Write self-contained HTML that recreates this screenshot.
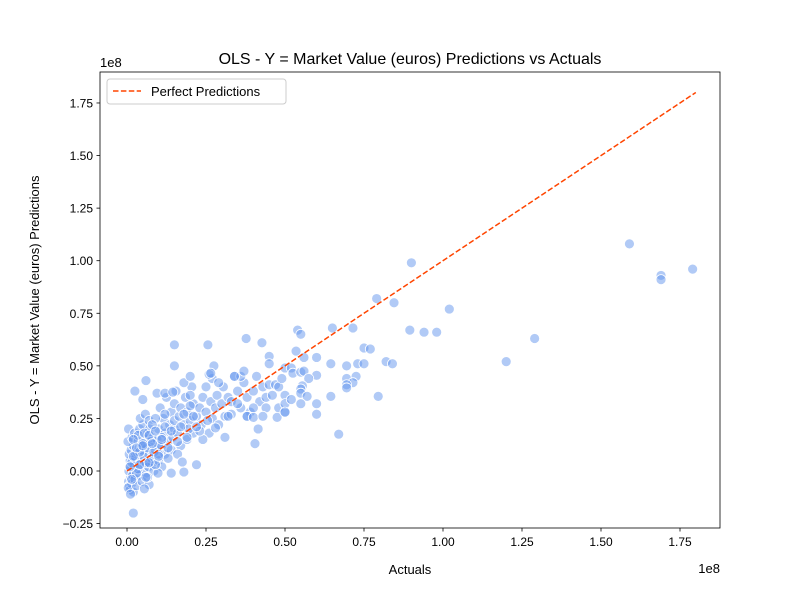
<!DOCTYPE html>
<html><head><meta charset="utf-8"><style>
body{margin:0;background:#fff}
svg text{font-family:"Liberation Sans","DejaVu Sans",sans-serif;fill:#000}
</style></head><body>
<svg id="chart" width="800" height="600" xmlns="http://www.w3.org/2000/svg">
<rect width="800" height="600" fill="#fff"/>
<g id="points"></g>
<g id="axes"></g>
<text x="410" y="64" font-size="16" text-anchor="middle">OLS - Y = Market Value (euros) Predictions vs Actuals</text>
<text x="410" y="574" font-size="13" text-anchor="middle">Actuals</text>
<text transform="translate(39,300) rotate(-90)" font-size="13" text-anchor="middle">OLS - Y = Market Value (euros) Predictions</text>
<text x="100" y="67" font-size="13">1e8</text>
<text x="720" y="573" font-size="13" text-anchor="end">1e8</text>
<g>
<rect x="107" y="79" width="179" height="25" rx="3" fill="#fff" fill-opacity="0.8" stroke="#ccc"/>
<line x1="113" y1="91" x2="141" y2="91" stroke="#ff4500" stroke-width="1.5" stroke-dasharray="5.5,2.4"/>
<text x="151" y="96" font-size="13">Perfect Predictions</text>
</g>
</svg>
<script>
// values in millions of euros
const actuals = [0.5,0.8,1,1.2,0.6,0.9,1.5,2,1,0.7,1.3,2,1.8,2.5,0.4,1.1,2.2,3,2.8,0.3,1.6,0.5,2.4,3,3.2,
4,4.5,5,3.5,4,5,6,5.5,6,7,7.5,6.5,4.2,5.8,7,8,8,3.8,4.8,6.8,5.2,7.2,3.6,6.3,7.8,
9,9.5,10,10,11,11.5,12,12,13,13.5,14,14,15,15,9,10.5,12.5,8.5,11,13,14.5,9.8,12,10,15,
16,16.5,17,17,18,18.5,19,19,20,20.5,21,21,22,16,18,19.5,20,15.5,
23,23.5,24,25,25,26,26.5,27,27,28,28.5,29,30,30.5,31,32,24,26,29,23,25.5,
33,34,35,36,37,38,39,40,41,42,43,44,45,46,47,48,49,33,36,40,44,48,35,38,
15,25.6,37.7,42.7,15,6,2.5,5,9.5,12,14.5,27.5,20,26.5,34,37,45,45,67,40.5,41.5,31,22,18,14,7,5.5,2,38,40,43,47.5,50,32,28,17.5,
159,169,169,179,90,79,84.5,102,129,120,89.5,94,98,54,55,65,71.5,53.5,56,60,64.5,69.5,73,75,75,77,82,84,50,52,52.5,55,56,60,57.5,55.5,55,55,57,64.5,69.5,72.5,71.5,69.5,69.5,79.5,50,50,52,55,60,50,60,
1.5,2.5,3.5,4.5,5.5,6.5,7.5,8.5,2,3,4,5,6,7,8,9,10,11,12,13,14,16,17,18,19,20,21,22,1,1.5,2,3,4,5,6,7,8,9,10,11];
const predictions = [-5,-7,-9,-3,0,2,-6,-10,5,8,10,12,-2,-4,-8,-11,3,-7,6,14,16,20,18,1,9,
-2,5,10,14,20,22,15,3,-1,8,12,18,25,27,24,4,16,11,-5,2,7,20,17,11,6,
10,15,20,5,12,25,18,8,14,22,28,10,20,32,25,30,35,0,2,6,16,-1,27,12,24,
18,26,30,12,22,35,28,15,24,40,32,18,26,8,42,20,36,38,
30,22,35,28,40,18,33,25,44,30,36,22,32,40,26,35,15,46,42,19,24,
33,45,38,30,42,35,28,38,45,33,40,35,41,36,41,40,44,27,45,30,30,30,32,26,
60,60,63,61,50,43,38,34,37,37,37.5,50,45,46.5,45,47.5,54.5,51,17.5,13,20,16,3,-0.5,-1,-6.5,-8.5,-20,26,25.5,26,25.5,28,26,20.5,4.3,
108,93,91,96,99,82,80,77,63,52,67,66,66,67,65,68,68,57,54,54,51,50,51,51,58.5,58,52,51,49,49,46.5,47,47.5,45.5,44,40.5,39,37,35.5,35.5,44,45,42,41,39.5,35.5,36,32,34,32,32,28,27,
4,7,1,12,18,-3,14,9,15,-1,9,13,4,17,22,3,8,16,21,11,19,14,21,27,16,31,26,21,2,-4,7,11,3,12,-3,4,13,19,7,15];
const xTicks = [0,0.25,0.5,0.75,1,1.25,1.5,1.75];
const yTicks = [-0.25,0,0.25,0.5,0.75,1,1.25,1.5,1.75];
const xTickLabels = ["0.00","0.25","0.50","0.75","1.00","1.25","1.50","1.75"];
const yTickLabels = ["−0.25","0.00","0.25","0.50","0.75","1.00","1.25","1.50","1.75"];
const lineStart = 0, lineEnd = 1.8; // 1e8

const NS="http://www.w3.org/2000/svg";
const X = v => 127 + v*316;     // v in 1e8
const Y = v => 471 - v*210.3;
const pts=document.getElementById('points');
for(let i=0;i<actuals.length;i++){
  const c=document.createElementNS(NS,'circle');
  c.setAttribute('cx',X(actuals[i]/100));c.setAttribute('cy',Y(predictions[i]/100));
  c.setAttribute('r',5);c.setAttribute('fill','#6495ed');c.setAttribute('fill-opacity','0.5');
  c.setAttribute('stroke','#fff');c.setAttribute('stroke-width','0.8');
  
  
  pts.appendChild(c);
}
const ax=document.getElementById('axes');
function add(tag,attrs,text){const e=document.createElementNS(NS,tag);for(const k in attrs)e.setAttribute(k,attrs[k]);if(text!==undefined)e.textContent=text;ax.appendChild(e);return e;}
const ln=add('line',{x1:X(lineStart),y1:Y(lineStart),x2:X(lineEnd),y2:Y(lineEnd),stroke:'#ff4500','stroke-width':1.5,'stroke-dasharray':'5.5,2.4'});


const fr=add('rect',{x:100,y:72,width:620,height:456,fill:'none',stroke:'#000','stroke-width':0.8});


xTicks.forEach((t,i)=>{
  add('line',{x1:X(t),x2:X(t),y1:528,y2:531.5,stroke:'#000','stroke-width':0.8});
  const tx=add('text',{x:X(t),y:546,'font-size':12,'text-anchor':'middle'},xTickLabels[i]);
  
  
});
yTicks.forEach((t,i)=>{
  add('line',{x1:96.5,x2:100,y1:Y(t),y2:Y(t),stroke:'#000','stroke-width':0.8});
  const tx=add('text',{x:93,y:Y(t)+4.5,'font-size':12,'text-anchor':'end'},yTickLabels[i]);
  
  
});
</script>
</body></html>
